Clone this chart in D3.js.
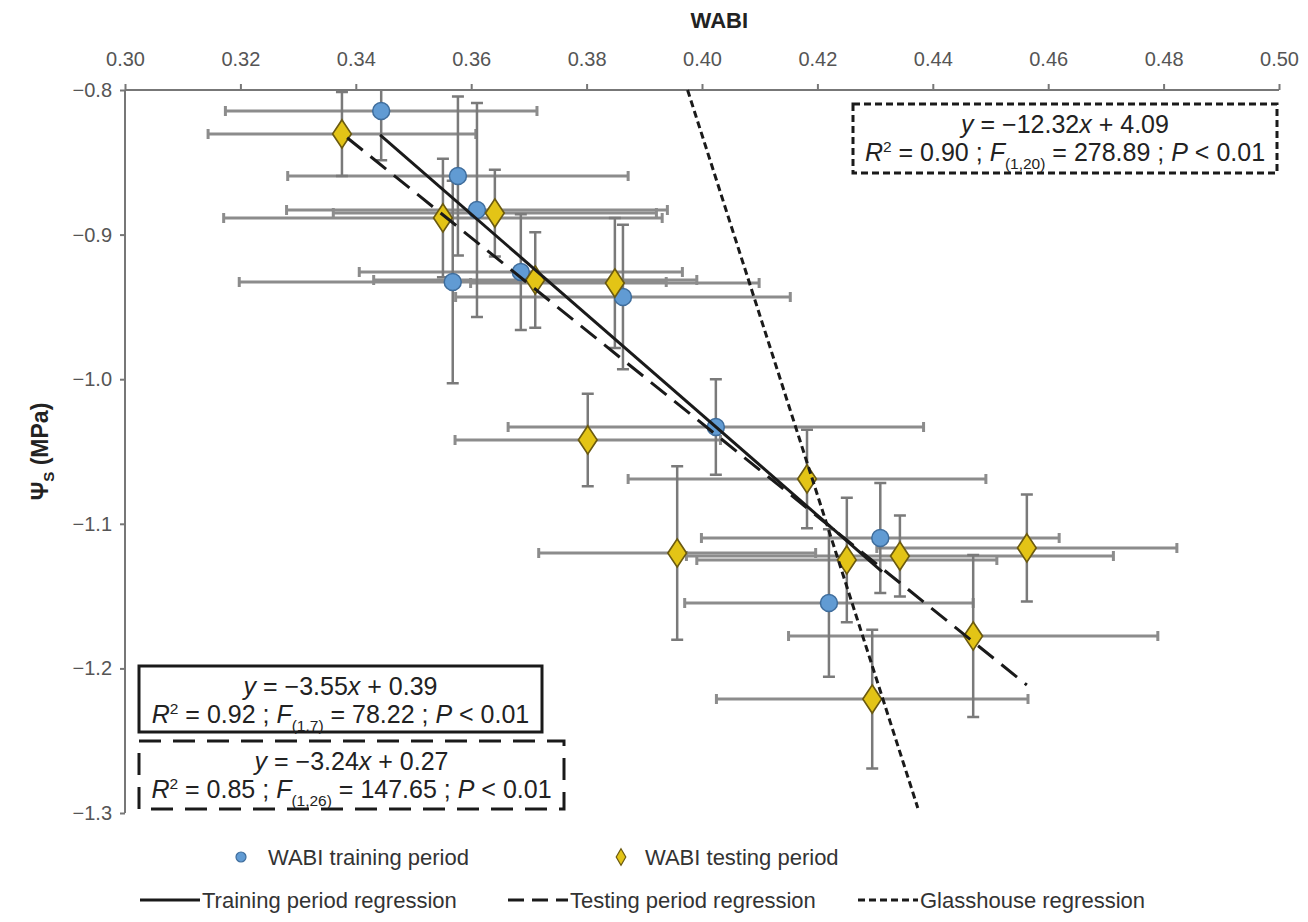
<!DOCTYPE html>
<meta charset="utf-8">
<style>
body { margin: 0; background: #fff; }
svg { font-family: "Liberation Sans", Arial, sans-serif; }
.axis path, .axis line { fill: none; stroke: #777; stroke-width: 2; }
.axis text { font-size: 20px; fill: #555; font-family: "Liberation Sans", Arial, sans-serif; }
.hbar { stroke: #8c8c8c; stroke-width: 3; fill: none; }
.vbar { stroke: #7a7a7a; stroke-width: 2.5; fill: none; }
.box text { font-size: 25px; fill: #222; }
.legend text { font-size: 22px; fill: #333; }
</style>
<svg width="1308" height="922"></svg>
<script src="https://d3js.org/d3.v7.min.js"></script>
<script>

var xTicks = [0.30, 0.32, 0.34, 0.36, 0.38, 0.40, 0.42, 0.44, 0.46, 0.48, 0.50];
var yTicks = [-0.8, -0.9, -1.0, -1.1, -1.2, -1.3];

// WABI training period (blue circles)
var trainX    = [0.3444, 0.3577, 0.3610, 0.3568, 0.3686, 0.3863, 0.4024, 0.4309, 0.4220];
var trainY    = [-0.8145, -0.8595, -0.8830, -0.9328, -0.9259, -0.9432, -1.0331, -1.1098, -1.1548];
var trainXErr = [0.027, 0.0295, 0.033, 0.037, 0.028, 0.029, 0.036, 0.031, 0.025];
var trainYErr = [0.034, 0.055, 0.074, 0.070, 0.040, 0.050, 0.033, 0.038, 0.051];

// WABI testing period (yellow diamonds)
var testX    = [0.3376, 0.3551, 0.3641, 0.3711, 0.3849, 0.3802, 0.4182, 0.3957, 0.4251, 0.4343, 0.4563, 0.4470, 0.4295];
var testY    = [-0.8304, -0.8885, -0.8851, -0.9314, -0.9335, -1.0420, -1.0690, -1.1202, -1.1250, -1.1223, -1.1167, -1.1776, -1.2212];
var testXErr = [0.0232, 0.038, 0.028, 0.028, 0.025, 0.023, 0.031, 0.024, 0.026, 0.037, 0.026, 0.032, 0.027];
var testYErr = [0.029, 0.041, 0.030, 0.033, 0.045, 0.032, 0.034, 0.060, 0.043, 0.028, 0.037, 0.056, 0.048];

// regression lines, end points
var regNames  = ["Training period regression", "Testing period regression", "Glasshouse regression"];
var regLineX  = [[0.3442, 0.4312], [0.3385, 0.4563], [0.3975, 0.4374]];
var regLineY  = [[-0.831, -1.133], [-0.833, -1.2115], [-0.800, -1.2965]];
var regSlope  = ["\u22123.55", "\u22123.24", "\u221212.32"];
var regInter  = ["0.39", "0.27", "4.09"];
var regR2     = ["0.92", "0.85", "0.90"];
var regDf     = ["(1,7)", "(1,26)", "(1,20)"];
var regF      = ["78.22", "147.65", "278.89"];
var regP      = ["0.01", "0.01", "0.01"];

var regDash = [null, "20,10", "7,4"];
var regBox = [
  {x: 139, y: 666, w: 403, h: 66},
  {x: 139, y: 741, w: 425, h: 68},
  {x: 853, y: 104, w: 424, h: 69}
];

var svg = d3.select("svg"),
  margin = {top: 90, right: 29, bottom: 109, left: 125},
  width = svg.attr("width") - margin.left - margin.right,
  height = svg.attr("height") - margin.top - margin.bottom;

var x = d3.scaleLinear().domain([0.30, 0.50]).range([0, width]),
    y = d3.scaleLinear().domain([-0.8, -1.3]).range([0, height]);

var g = svg.append("g")
  .attr("transform", "translate(" + margin.left + "," + margin.top + ")");

g.append("clipPath").attr("id", "plot")
  .append("rect").attr("x", 0).attr("y", 0).attr("width", width).attr("height", height);

// axes
g.append("g")
  .attr("class", "axis")
  .call(d3.axisTop(x).tickValues(xTicks).tickSize(6).tickPadding(18)
    .tickFormat(d3.format(".2f")));

g.append("g")
  .attr("class", "axis")
  .call(d3.axisLeft(y).tickValues(yTicks).tickSize(5).tickPadding(8)
    .tickFormat(function(d) { return d3.format(".1f")(d).replace("-", "\u2212"); }));

g.selectAll(".axis .domain").attr("d", function(d, i) {
  return i == 0 ? "M0,0H" + width : "M0,0V" + height;
});

svg.append("text")
  .attr("x", margin.left + x(0.403))
  .attr("y", 28)
  .attr("text-anchor", "middle")
  .style("font-size", "22px").style("font-weight", "bold").style("fill", "#222")
  .text("WABI");

var yl = svg.append("text")
  .attr("transform", "translate(48," + (margin.top + height / 2) + ") rotate(-90)")
  .attr("text-anchor", "middle")
  .style("font-size", "23px").style("font-weight", "bold").style("fill", "#222");
yl.append("tspan").text("\u03a8");
yl.append("tspan").attr("dy", 6).style("font-size", "15px").text("S");
yl.append("tspan").attr("dy", -6).text(" (MPa)");

// error bars
var train = trainX.map(function(v, i) { return {x: v, y: trainY[i], xe: trainXErr[i], ye: trainYErr[i]}; });
var test = testX.map(function(v, i) { return {x: v, y: testY[i], xe: testXErr[i], ye: testYErr[i]}; });
var all = train.concat(test);

var bars = g.append("g").attr("clip-path", "url(#plot)");

bars.selectAll(".hbar").data(all).enter().append("path")
  .attr("class", "hbar")
  .attr("d", function(d) {
    var x0 = x(d.x - d.xe), x1 = x(d.x + d.xe), yy = y(d.y);
    return "M" + x0 + "," + yy + "H" + x1 +
      "M" + x0 + "," + (yy - 5) + "V" + (yy + 5) +
      "M" + x1 + "," + (yy - 5) + "V" + (yy + 5);
  });

bars.selectAll(".vbar").data(all).enter().append("path")
  .attr("class", "vbar")
  .attr("d", function(d) {
    var y0 = y(d.y - d.ye), y1 = y(d.y + d.ye), xx = x(d.x);
    return "M" + xx + "," + y0 + "V" + y1 +
      "M" + (xx - 6) + "," + y0 + "H" + (xx + 6) +
      "M" + (xx - 6) + "," + y1 + "H" + (xx + 6);
  });

// markers
var diamond = d3.symbol().type(d3.symbolDiamond).size(230);

g.append("g").selectAll("circle").data(train).enter().append("circle")
  .attr("cx", function(d) { return x(d.x); })
  .attr("cy", function(d) { return y(d.y); })
  .attr("r", 8.5)
  .style("fill", "#619bd3").style("stroke", "#3f6d9c").style("stroke-width", 1.5);

g.append("g").selectAll("path").data(test).enter().append("path")
  .attr("d", diamond)
  .attr("transform", function(d) { return "translate(" + x(d.x) + "," + y(d.y) + ") scale(1.15,1)"; })
  .style("fill", "#e3c416").style("stroke", "#6b5a10").style("stroke-width", 1.5);

// regression lines
var line = d3.line().x(function(d) { return x(d[0]); }).y(function(d) { return y(d[1]); });

regNames.forEach(function(name, i) {
  g.append("path")
    .datum(d3.zip(regLineX[i], regLineY[i]))
    .attr("d", line)
    .style("fill", "none").style("stroke", "#1a1a1a").style("stroke-width", 3)
    .style("stroke-dasharray", regDash[i]);
});

// equation boxes
function richText(sel, cx, cy, parts, size) {
  var t = sel.append("text").attr("x", cx).attr("y", cy).attr("text-anchor", "middle");
  var shift = 0;
  parts.forEach(function(p) {
    var target = p.sub ? size * 0.3 : p.sup ? -size * 0.38 : 0;
    var s = t.append("tspan").attr("dy", target - shift).text(p.t);
    shift = target;
    if (p.i) s.style("font-style", "italic");
    if (p.sub || p.sup) s.style("font-size", (size * 0.62) + "px");
  });
}

var boxes = svg.append("g").attr("class", "box");
regNames.forEach(function(name, i) {
  var b = regBox[i];
  boxes.append("rect")
    .attr("x", b.x).attr("y", b.y).attr("width", b.w).attr("height", b.h)
    .style("fill", "#fff").style("stroke", "#1a1a1a").style("stroke-width", 3)
    .style("stroke-dasharray", i == 1 ? "22,12" : regDash[i]);
  var cx = b.x + b.w / 2;
  richText(boxes, cx, b.y + 29, [
    {t: "y", i: 1}, {t: " = " + regSlope[i]}, {t: "x", i: 1}, {t: " + " + regInter[i]}
  ], 25);
  richText(boxes, cx, b.y + 57, [
    {t: "R", i: 1}, {t: "2", sup: 1}, {t: " = " + regR2[i] + " ; "},
    {t: "F", i: 1}, {t: regDf[i], sub: 1}, {t: " = " + regF[i] + " ; "},
    {t: "P", i: 1}, {t: " < " + regP[i]}
  ], 25);
});

// legend
var lg = svg.append("g").attr("class", "legend");
lg.append("circle").attr("cx", 241).attr("cy", 857).attr("r", 5)
  .style("fill", "#619bd3").style("stroke", "#3f6d9c").style("stroke-width", 1.2);
lg.append("text").attr("x", 268).attr("y", 865).text("WABI training period");
lg.append("path").attr("d", d3.symbol().type(d3.symbolDiamond).size(80))
  .attr("transform", "translate(621,857)")
  .style("fill", "#e3c416").style("stroke", "#6b5a10").style("stroke-width", 1.2);
lg.append("text").attr("x", 645).attr("y", 865).text("WABI testing period");

var legX = [140, 508, 858];
regNames.forEach(function(name, i) {
  lg.append("line")
    .attr("x1", legX[i]).attr("x2", legX[i] + 60).attr("y1", 900).attr("y2", 900)
    .style("stroke", "#1a1a1a").style("stroke-width", 3)
    .style("stroke-dasharray", i == 1 ? "16,8" : regDash[i]);
  lg.append("text").attr("x", legX[i] + 62).attr("y", 908).text(name);
});
</script>
